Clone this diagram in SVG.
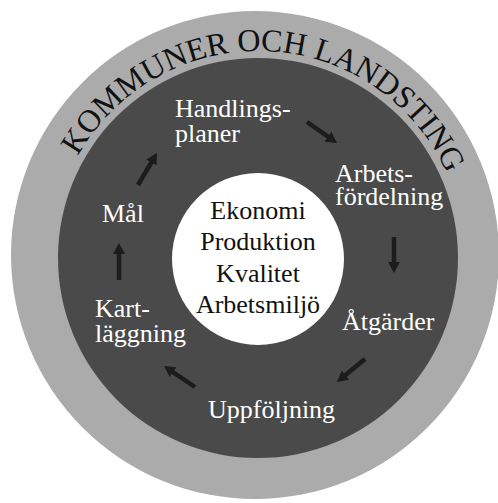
<svg xmlns="http://www.w3.org/2000/svg" width="498" height="503" viewBox="0 0 498 503">
<style>
text{font-family:'Liberation Serif','DejaVu Serif','Times New Roman',serif}
.lbl{font-size:26px;fill:#ffffff}
.ctr{font-size:26px;fill:#111111;text-anchor:middle}
.arc{font-size:32px;fill:#111111}
.arr{stroke:#1c1c1c;stroke-width:4.5;fill:none;marker-end:url(#ah)}
</style>
<defs>
<marker id="ah" markerUnits="userSpaceOnUse" markerWidth="11" markerHeight="12" refX="6" refY="6" orient="auto">
<path d="M0,0 L11,6 L0,12 z" fill="#1c1c1c"/>
</marker>
<path id="arcpath" d="M 51,258 A 207 207 0 0 1 465,258"/>
</defs>
<rect width="498" height="503" fill="#ffffff"/>
<g id="outer">
<circle cx="255" cy="255" r="244" fill="#ababab"/>
<text class="arc" font-family="Liberation Serif, serif"><textPath href="#arcpath" startOffset="51.5%" text-anchor="middle">KOMMUNER OCH LANDSTING</textPath></text>
</g>
<g id="ring">
<circle cx="258" cy="258" r="200" fill="#4a4a4a"/>
</g>
<g id="center" font-family="Liberation Serif, serif">
<circle cx="258" cy="259" r="86" fill="#ffffff"/>
<text class="ctr" x="258" y="218.5">Ekonomi</text>
<text class="ctr" x="258" y="250">Produktion</text>
<text class="ctr" x="258" y="281.5">Kvalitet</text>
<text class="ctr" x="258" y="313">Arbetsmiljö</text>
</g>
<g id="handlingsplaner"><text class="lbl" x="175" y="117">Handlings-</text><text class="lbl" x="175" y="142">planer</text></g>
<g id="arbetsfordelning"><text class="lbl" x="335" y="182">Arbets-</text><text class="lbl" x="335" y="205">fördelning</text></g>
<g id="atgarder"><text class="lbl" x="342" y="330">Åtgärder</text></g>
<g id="uppfoljning"><text class="lbl" x="208" y="418">Uppföljning</text></g>
<g id="kartlaggning"><text class="lbl" x="95" y="317">Kart-</text><text class="lbl" x="95" y="342">läggning</text></g>
<g id="mal"><text class="lbl" x="102" y="222">Mål</text></g>
<g id="connectors">
<line class="arr" x1="138" y1="185" x2="154.4" y2="157.3"/>
<line class="arr" x1="307" y1="122" x2="332.9" y2="140.1"/>
<line class="arr" x1="394" y1="237" x2="394" y2="268"/>
<line class="arr" x1="365" y1="359" x2="340.9" y2="378.8"/>
<line class="arr" x1="195" y1="387" x2="168.1" y2="368.8"/>
<line class="arr" x1="119" y1="280" x2="119" y2="248"/>
</g>
</svg>
